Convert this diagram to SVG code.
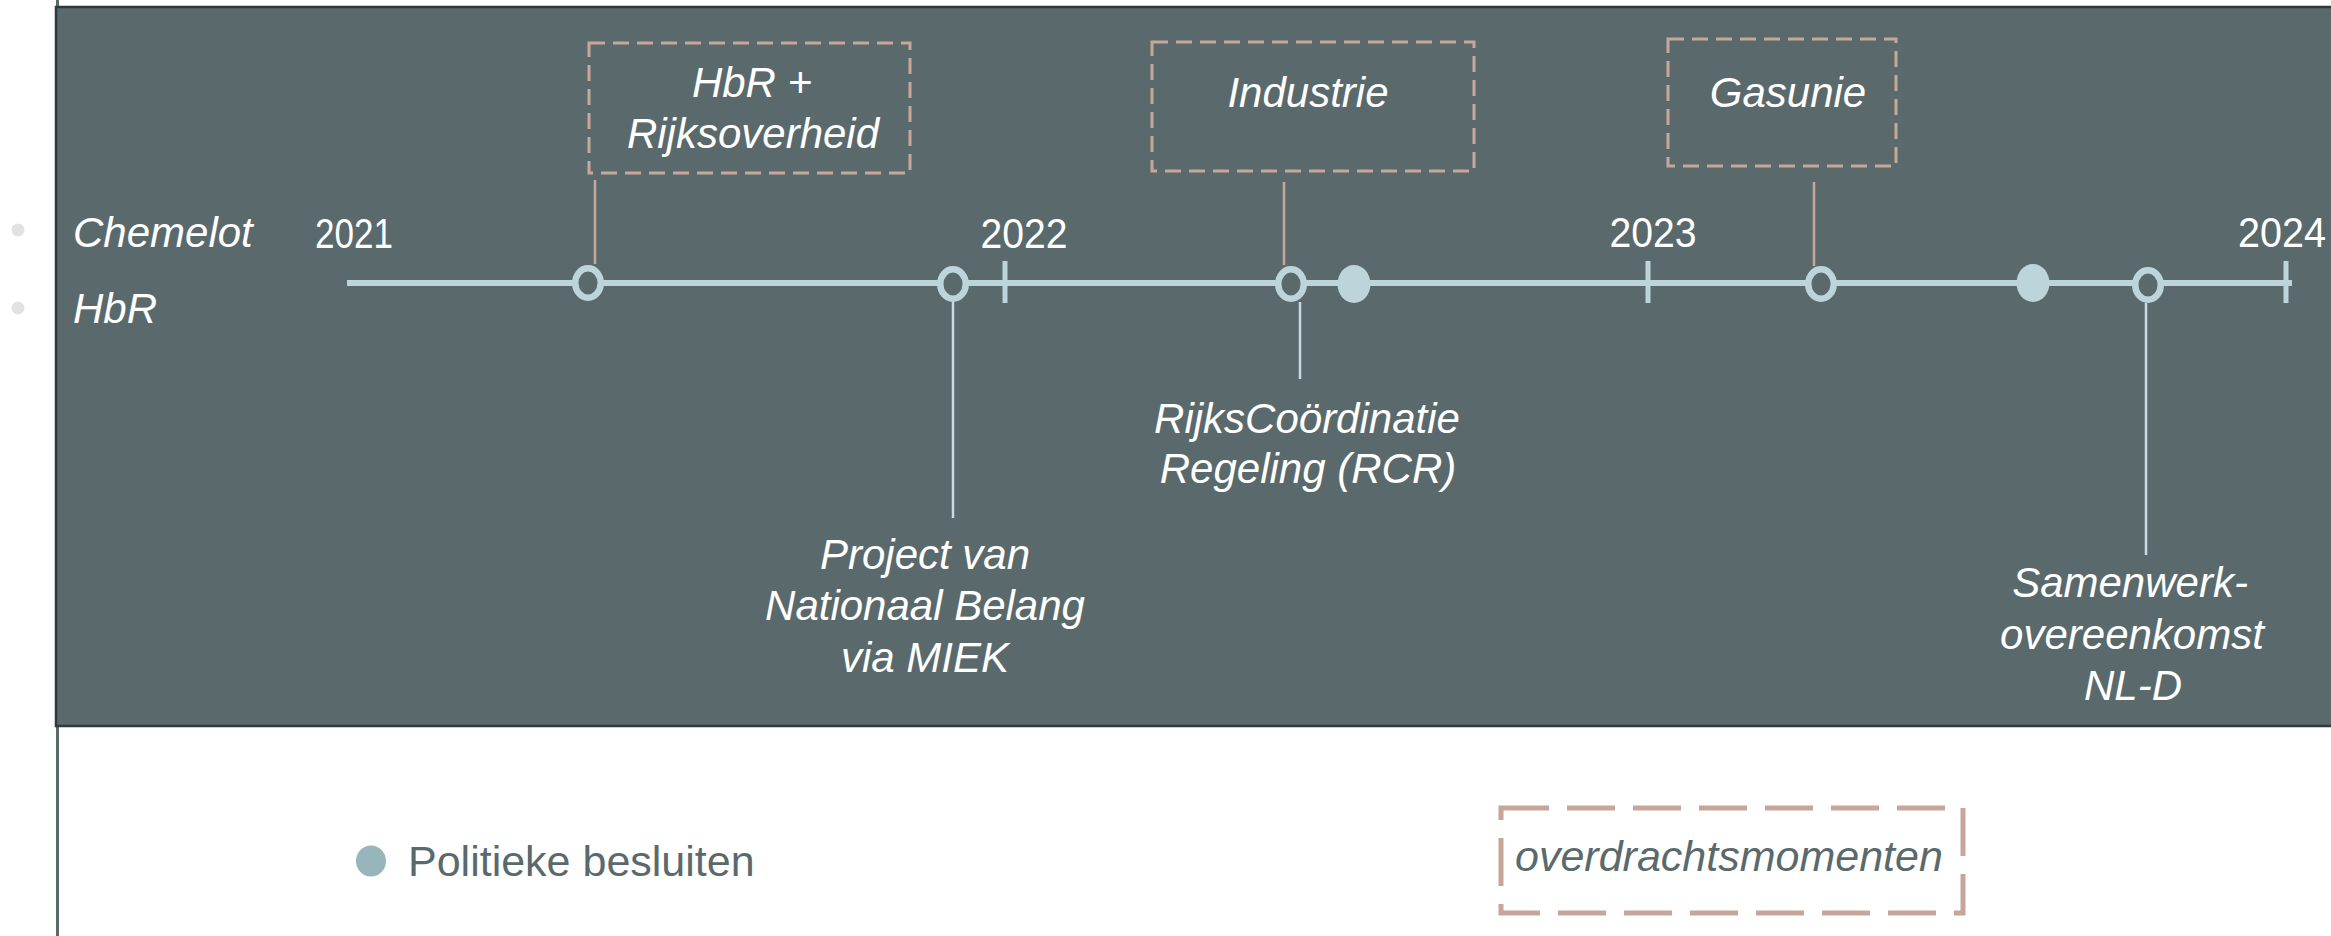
<svg xmlns="http://www.w3.org/2000/svg" width="2331" height="936" viewBox="0 0 2331 936">
<style>
.lbl{font-family:"Liberation Sans",Arial,sans-serif;font-style:italic;font-size:42px;fill:#ffffff;text-anchor:middle}
.side{font-family:"Liberation Sans",Arial,sans-serif;font-style:italic;font-size:42px;fill:#ffffff}
.yr{font-family:"Liberation Sans",Arial,sans-serif;font-size:42px;fill:#ffffff;text-anchor:middle}
.box{fill:none;stroke:#c7a69b;stroke-width:3;stroke-dasharray:16 8}
.pink{stroke:#c7a69b;stroke-width:2.5}
.light{stroke:#c8dbe0;stroke-width:2.5}
.open{fill:#5a6a6c;stroke:#bdd4da;stroke-width:6.5}
.fill{fill:#bdd4da}
.tick{stroke:#bdd4da;stroke-width:5}
</style>
<rect x="0" y="0" width="2331" height="936" fill="#ffffff"/>
<line x1="57.5" y1="0" x2="57.5" y2="936" stroke="#5a6a6c" stroke-width="3"/>
<rect id="panel" x="56" y="7" width="2300" height="719" fill="#5a6a6c" stroke="#2e3a3b" stroke-width="2.5"/>
<g id="side-labels">
<circle cx="18" cy="230" r="6.5" fill="#e2e2e2"/>
<circle cx="18" cy="308" r="6.5" fill="#e2e2e2"/>
<text class="side" x="73" y="247">Chemelot</text>
<text class="side" x="73" y="323">HbR</text>
</g>
<g id="timeline">
<line x1="347" y1="283" x2="2292" y2="283" stroke="#bdd4da" stroke-width="6"/>
<line class="tick" x1="1005" y1="261" x2="1005" y2="303"/>
<line class="tick" x1="1648" y1="261" x2="1648" y2="303"/>
<line class="tick" x1="2286" y1="261" x2="2286" y2="303"/>
<text class="yr" x="354" y="248" textLength="78" lengthAdjust="spacingAndGlyphs">2021</text>
<text class="yr" x="1024" y="248" textLength="87" lengthAdjust="spacingAndGlyphs">2022</text>
<text class="yr" x="1653" y="247" textLength="87" lengthAdjust="spacingAndGlyphs">2023</text>
<text class="yr" x="2282" y="247" textLength="88" lengthAdjust="spacingAndGlyphs">2024</text>
</g>
<g id="connectors">
<line class="pink" x1="595" y1="180" x2="595" y2="264"/>
<line class="pink" x1="1284" y1="182" x2="1284" y2="265"/>
<line class="pink" x1="1814" y1="182" x2="1814" y2="266"/>
<line class="light" x1="953" y1="302" x2="953" y2="518"/>
<line class="light" x1="1300" y1="302" x2="1300" y2="379"/>
<line class="light" x1="2146" y1="303" x2="2146" y2="555"/>
</g>
<g id="markers">
<ellipse class="open" cx="588" cy="283" rx="12.75" ry="14.75"/>
<ellipse class="open" cx="953" cy="284" rx="12.75" ry="14.75"/>
<ellipse class="open" cx="1291" cy="284" rx="12.75" ry="14.75"/>
<ellipse class="fill" cx="1354" cy="284" rx="16.5" ry="19"/>
<ellipse class="open" cx="1821" cy="284" rx="12.75" ry="14.75"/>
<ellipse class="fill" cx="2033" cy="283" rx="16.5" ry="19"/>
<ellipse class="open" cx="2148" cy="285" rx="12.75" ry="14.75"/>
</g>
<g id="box-hbr">
<rect class="box" x="589" y="43" width="321" height="130"/>
<text class="lbl" x="752" y="97">HbR +</text>
<text class="lbl" x="753" y="148">Rijksoverheid</text>
</g>
<g id="box-industrie">
<rect class="box" x="1152" y="42" width="322" height="129"/>
<text class="lbl" x="1308" y="107">Industrie</text>
</g>
<g id="box-gasunie">
<rect class="box" x="1668" y="39" width="228" height="127"/>
<text class="lbl" x="1788" y="107">Gasunie</text>
</g>
<g id="label-pnb">
<text class="lbl" x="925" y="569">Project van</text>
<text class="lbl" x="925" y="620">Nationaal Belang</text>
<text class="lbl" x="925" y="672">via MIEK</text>
</g>
<g id="label-rcr">
<text class="lbl" x="1307" y="433">RijksCoördinatie</text>
<text class="lbl" x="1308" y="483">Regeling (RCR)</text>
</g>
<g id="label-swo">
<text class="lbl" x="2130" y="597">Samenwerk-</text>
<text class="lbl" x="2132" y="649">overeenkomst</text>
<text class="lbl" x="2133" y="700">NL-D</text>
</g>
<g id="legend-politiek">
<ellipse cx="371" cy="861" rx="15" ry="15.5" fill="#97b6bc"/>
<text x="408" y="876" font-family="Liberation Sans, Arial, sans-serif" font-size="43" fill="#5a6a6c">Politieke besluiten</text>
</g>
<g id="legend-overdracht">
<rect x="1501" y="808" width="462" height="105" fill="none" stroke="#c6a59a" stroke-width="5" stroke-dasharray="48 18"/>
<text x="1515" y="871" font-family="Liberation Sans, Arial, sans-serif" font-style="italic" font-size="43" fill="#5a6a6c">overdrachtsmomenten</text>
</g>
</svg>
